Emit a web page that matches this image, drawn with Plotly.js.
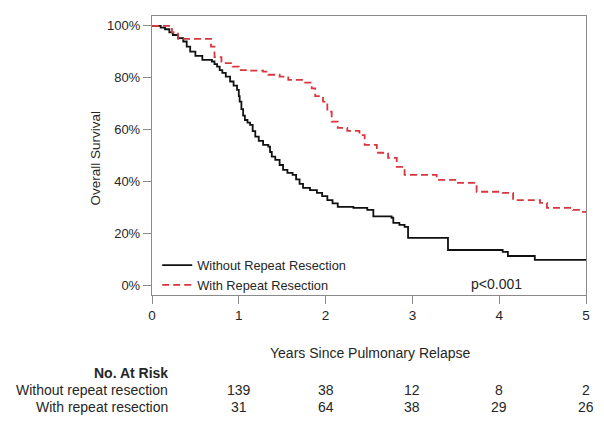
<!DOCTYPE html>
<html>
<head>
<meta charset="utf-8">
<script src="https://cdn.plot.ly/plotly-3.0.1.min.js"></script>
<style>html,body{margin:0;padding:0;background:#fff;}#chart{width:604px;height:428px;}</style>
</head>
<body>
<div id="chart"></div>
<script>
// Kaplan-Meier step data
const withoutYears = [0,0.07,0.10,0.15,0.20,0.24,0.30,0.36,0.40,0.44,0.50,0.58,0.69,0.72,0.75,0.78,0.81,0.85,0.90,0.94,0.98,1.00,1.01,1.03,1.05,1.07,1.10,1.13,1.16,1.19,1.23,1.28,1.34,1.36,1.38,1.42,1.47,1.51,1.56,1.62,1.66,1.70,1.74,1.82,1.90,1.96,2.02,2.08,2.14,2.32,2.48,2.55,2.76,2.78,2.85,2.91,2.95,3.41,4.04,4.10,4.41,5.00];
const withoutSurv  = [100,100,99.3,98.7,97.5,96.5,95.3,94,92,90.1,88.5,86.9,86.3,85.3,84.3,83,81.9,80.5,78.6,77,75.4,73,70.9,68,65.5,63.8,62.8,61.9,59.5,57.4,55.8,54.2,53.6,51.5,49.7,48.5,46.5,44.6,43.5,42.7,41,39.2,37.7,36.8,35.8,34.5,33,31.7,30.4,30,29.2,26.7,26.2,24.2,23.5,22.7,18.5,13.8,13.1,11.5,10,10];

const withYears = [0,0.23,0.30,0.68,0.72,0.80,0.93,1.00,1.10,1.28,1.34,1.47,1.57,1.74,1.84,1.88,1.97,2.02,2.07,2.14,2.25,2.39,2.45,2.59,2.72,2.82,2.91,3.28,3.51,3.74,4.04,4.16,4.47,4.55,4.85,4.95,5.00];
const withSurv  = [100,97.5,95,92,88,85.7,84.3,83,82.8,82.4,81.2,80.5,79.2,78.2,76,73,70.9,67,63.2,60.8,59.6,58,54.2,51.2,49.2,45.8,42.7,40.8,39.6,36.2,35.8,33,31.9,30,29.2,28.5,28.5];

const seriesNames = ["Without Repeat Resection", "With Repeat Resection"];
const xTicks = [0,1,2,3,4,5];
const yTicks = [0,20,40,60,80,100];
const yTickLabels = ["0%","20%","40%","60%","80%","100%"];

const riskTimes = [1,2,3,4,5];
const riskWithout = [139,38,12,8,2];
const riskWith = [31,64,38,29,26];
const riskRowLabels = ["Without repeat resection","With repeat resection"];

const FONT = "Liberation Sans, Arial, sans-serif";
const TXT = "#262626";
const AX = "#8a8a8a";
const BIG = 14;

const traces = [
  {x: withoutYears, y: withoutSurv, name: seriesNames[0], mode: "lines",
   line: {shape: "hv", color: "#111111", width: 1.8}},
  {x: withYears, y: withSurv, name: seriesNames[1], mode: "lines",
   line: {shape: "hv", color: "#d9363e", width: 1.8, dash: "7px,4px"}}
];

const ann = [];
// axis titles
ann.push({xref:"paper", yref:"paper", x:0.502, y:-0.208, text:"Years Since Pulmonary Relapse",
  showarrow:false, xanchor:"center", yanchor:"middle", font:{family:FONT, size:BIG, color:TXT}});
ann.push({xref:"paper", yref:"paper", x:-0.131, y:0.49, text:"Overall Survival", textangle:-90,
  showarrow:false, xanchor:"center", yanchor:"middle", font:{family:FONT, size:13.5, color:TXT}});
// p-value
ann.push({xref:"x", yref:"y", x:3.97, y:0.6, text:"p<0.001", showarrow:false,
  xanchor:"center", yanchor:"middle", font:{family:FONT, size:BIG, color:TXT}});
// at-risk table
ann.push({xref:"paper", yref:"paper", x:0.0415, y:-0.2796, text:"<b>No. At Risk</b>", showarrow:false,
  xanchor:"right", yanchor:"middle", font:{family:FONT, size:BIG, color:TXT}});
const rowY = [-0.3405, -0.4014];
[riskWithout, riskWith].forEach((row, r) => {
  ann.push({xref:"paper", yref:"paper", x:0.0415, y:rowY[r], text:riskRowLabels[r], showarrow:false,
    xanchor:"right", yanchor:"middle", font:{family:FONT, size:BIG, color:TXT}});
  row.forEach((v, i) => {
    ann.push({xref:"x", yref:"paper", x:riskTimes[i], y:rowY[r], text:String(v), showarrow:false,
      xanchor:"center", yanchor:"middle", font:{family:FONT, size:BIG, color:TXT}});
  });
});

const layout = {
  width: 604, height: 428,
  margin: {l:152, r:18, t:16, b:133, pad:0},
  paper_bgcolor: "#fff", plot_bgcolor: "#fff",
  font: {family: FONT, size: 13, color: TXT},
  showlegend: true,
  legend: {x:0.012, y:0.16, xanchor:"left", yanchor:"top", bgcolor:"rgba(0,0,0,0)",
    borderwidth:0, font:{family:FONT, size:12.8, color:TXT}, tracegroupgap:0},
  xaxis: {range:[0,5], tickvals:xTicks, ticktext:xTicks.map(String), ticks:"outside", ticklen:8,
    tickcolor:AX, tickwidth:1, showline:true, linecolor:AX, linewidth:1.2, mirror:true,
    showgrid:false, zeroline:false, fixedrange:true, tickfont:{family:FONT, size:13.5, color:TXT}},
  yaxis: {range:[-3.5,103.8], tickvals:yTicks, ticktext:yTickLabels, ticks:"outside", ticklen:8,
    tickcolor:AX, tickwidth:1, showline:true, linecolor:AX, linewidth:1.2, mirror:true,
    showgrid:false, zeroline:false, fixedrange:true, tickfont:{family:FONT, size:13, color:TXT}},
  annotations: ann
};

Plotly.newPlot("chart", traces, layout, {displayModeBar:false, staticPlot:true});
</script>
</body>
</html>
